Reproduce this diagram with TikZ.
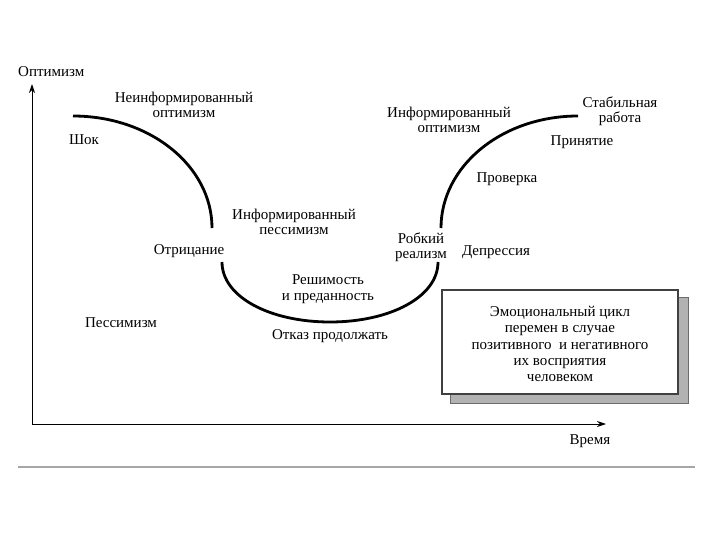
\documentclass[tikz,border=0pt]{standalone}
\usepackage{fontspec}
\setmainfont{Liberation Serif}
\usetikzlibrary{arrows.meta}
\begin{document}
\begin{tikzpicture}[x=1pt,y=-1pt,
  lbl/.style={font=\fontsize{15}{15.5}\selectfont, align=center, inner sep=0pt},
  curve/.style={line width=2.8pt},
  axis/.style={line width=1pt,-{Stealth[length=9pt,width=6pt]}}]
\useasboundingbox[fill=white] (0,0) rectangle (720,540);
% axes
\coordinate (O) at (32,424);
\coordinate (Ytop) at (32,84);
\coordinate (Xend) at (606,424);
\draw[axis] (O) -- (Ytop);
\draw[axis] (O) -- (Xend);
% gray rule
\coordinate (R1) at (18,467);
\coordinate (R2) at (695,467);
\draw[line width=2.5pt, gray!70] (R1) -- (R2);
% curves
\draw[curve] (73,116) .. controls (150,116) and (212,166) .. (212,228);
\draw[curve] (222,262) .. controls (222,297) and (270,322) .. (330,322)
  .. controls (390,322) and (438,297) .. (438,262);
\draw[curve] (441,228) .. controls (441,166) and (502,116) .. (578,116);
% box
\fill[gray!60] (450,297) rectangle (688,403);
\draw[gray!85!black, line width=0.8pt] (450,297) rectangle (688,403);
\draw[fill=white, draw=black!75, line width=1.3pt] (442,290) rectangle (678,394);
\node[lbl, font=\fontsize{15}{16.3}\selectfont] (box) at (560,344)
  {Эмоциональный цикл\\перемен в случае\\позитивного\ \ и негативного\\их восприятия\\человеком};
% labels
\node[lbl, anchor=west] (opt) at (18,72) {Оптимизм};
\node[lbl] (neinf) at (184,105) {Неинформированный\\оптимизм};
\node[lbl] (shok) at (84,140) {Шок};
\node[lbl] (infpes) at (294,222) {Информированный\\пессимизм};
\node[lbl] (otr) at (189,251) {Отрицание};
\node[lbl] (robk) at (421,247) {Робкий\\реализм};
\node[lbl] (depr) at (496,252) {Депрессия};
\node[lbl] (resh) at (328,289) {Решимость\\и преданность};
\node[lbl] (pes) at (121,323) {Пессимизм};
\node[lbl] (otk) at (330,336) {Отказ продолжать};
\node[lbl] (infopt) at (449,120) {Информированный\\оптимизм};
\node[lbl] (stab) at (620,111) {Стабильная\\работа};
\node[lbl] (prin) at (582,142) {Принятие};
\node[lbl] (prov) at (507,179) {Проверка};
\node[lbl] (vrem) at (590,441) {Время};
\end{tikzpicture}
\end{document}
